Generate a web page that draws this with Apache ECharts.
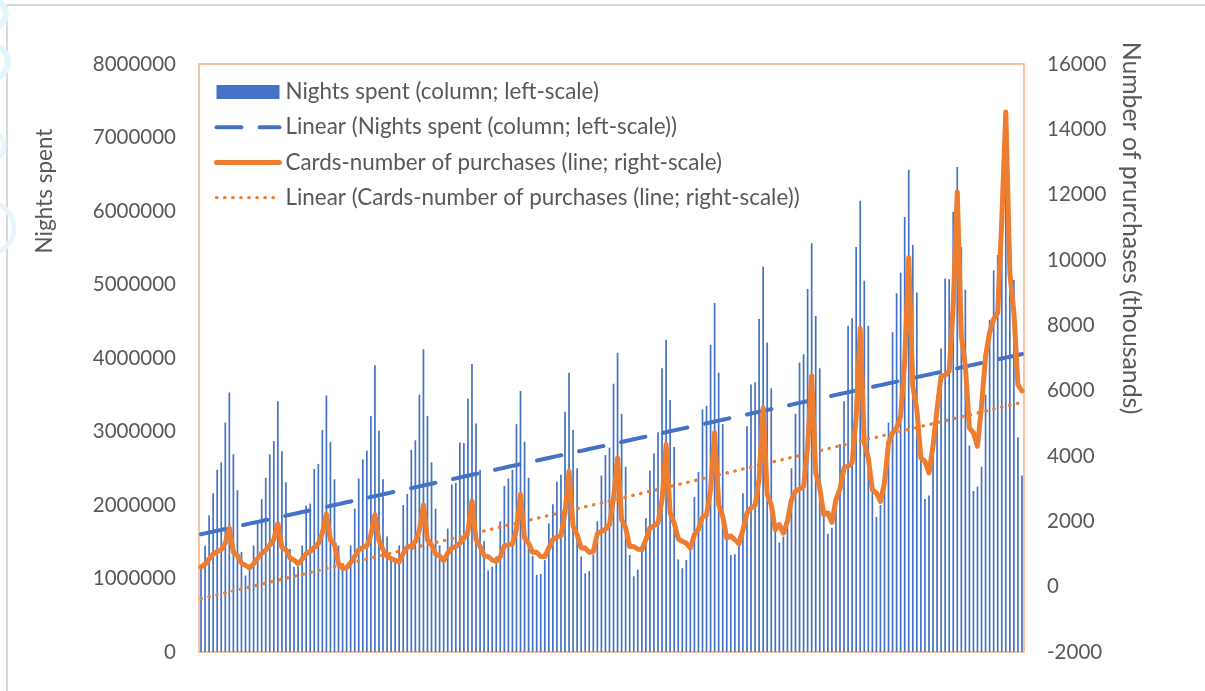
<!DOCTYPE html>
<html>
<head>
<meta charset="utf-8">
<script src="https://cdn.jsdelivr.net/npm/echarts@6/dist/echarts.min.js"></script>
<style>
  html, body { margin: 0; padding: 0; background: #ffffff; }
  #chart { width: 1205px; height: 691px; }
</style>
</head>
<body>
<div id="chart"></div>
<script>
// Monthly nights spent (left scale), 17 seasons of 12 months
const nightsSpent = [
  1150000, 1450000, 1860000, 2160000, 2480000, 2580000, 3120000, 3530000, 2690000, 2200000, 1360000, 1040000,
  1140000, 1450000, 1770000, 2080000, 2370000, 2690000, 2870000, 3410000, 2730000, 2310000, 1400000, 1160000,
  1160000, 1450000, 1990000, 2020000, 2490000, 2560000, 3020000, 3490000, 2860000, 2350000, 1450000, 1140000,
  1180000, 1450000, 1950000, 2360000, 2620000, 2740000, 3210000, 3900000, 3010000, 2350000, 1570000, 1280000,
  1280000, 1450000, 2000000, 2150000, 2750000, 2880000, 3500000, 4120000, 3210000, 2580000, 1950000, 1450000,
  1270000, 1680000, 2280000, 2300000, 2850000, 2840000, 3450000, 3920000, 3110000, 2480000, 1510000, 1110000,
  1160000, 1300000, 1780000, 2260000, 2360000, 2480000, 3100000, 3550000, 2860000, 2370000, 1310000, 1050000,
  1060000, 1250000, 1750000, 2010000, 2320000, 2410000, 3270000, 3800000, 3020000, 2500000, 1300000, 1070000,
  1100000, 1330000, 1780000, 2400000, 2680000, 2780000, 3650000, 4070000, 3240000, 2520000, 1320000, 1030000,
  1120000, 1400000, 1820000, 2470000, 2700000, 2990000, 3860000, 4250000, 3430000, 2790000, 1260000, 1140000,
  1250000, 1470000, 2110000, 2450000, 3300000, 3350000, 4180000, 4750000, 3800000, 3100000, 1600000, 1320000,
  1330000, 1580000, 2160000, 3070000, 3640000, 3670000, 4530000, 5240000, 4210000, 3590000, 1750000, 1490000,
  1570000, 1700000, 2500000, 3240000, 3940000, 4050000, 4940000, 5560000, 4570000, 3860000, 1970000, 1610000,
  1690000, 2090000, 2830000, 3410000, 4440000, 4540000, 5510000, 6140000, 5050000, 4440000, 2300000, 1840000,
  2000000, 2310000, 3120000, 4350000, 4880000, 5160000, 5920000, 6560000, 5540000, 4890000, 2630000, 2080000,
  2130000, 2680000, 3490000, 4130000, 5080000, 5070000, 5990000, 6600000, 5510000, 4930000, 2810000, 2190000,
  2250000, 2520000, 3500000, 4520000, 5190000, 5400000, 6300000, 6900000, 5900000, 5060000, 2920000, 2400000
];

// Monthly card purchases in thousands (right scale)
const cardPurchases = [
  600, 690, 850, 1000, 1080, 1130, 1330, 1790, 1060, 950, 720, 650,
  580, 700, 870, 1020, 1120, 1270, 1450, 1930, 1200, 1130, 880, 820,
  700, 840, 1010, 1080, 1200, 1320, 1640, 2220, 1430, 1300, 700, 560,
  580, 740, 930, 1130, 1200, 1240, 1590, 2200, 1420, 1130, 920, 860,
  810, 760, 1020, 1210, 1250, 1380, 1740, 2500, 1430, 1280, 1000, 940,
  800, 1030, 1180, 1230, 1330, 1480, 1690, 2620, 1440, 1230, 950, 920,
  820, 770, 920, 1250, 1280, 1310, 1750, 2820, 1490, 1330, 1050, 1050,
  920, 920, 1180, 1440, 1520, 1560, 2260, 3530, 1850, 1590, 1180, 1180,
  1050, 1080, 1620, 1690, 1760, 1900, 2700, 3940, 2050, 1800, 1230, 1230,
  1150, 1130, 1440, 1800, 1870, 1950, 2660, 4350, 2260, 1950, 1460, 1390,
  1330, 1180, 1590, 1760, 2130, 2200, 2970, 4710, 2510, 2150, 1490, 1550,
  1440, 1310, 1740, 2260, 2410, 2480, 3300, 5480, 2820, 2510, 1740, 1900,
  1640, 2000, 2660, 2920, 2990, 3070, 4300, 6450, 3480, 3020, 2200, 2260,
  1970, 2660, 2990, 3640, 3690, 3790, 5200, 7900, 4400, 3940, 2970, 2870,
  2610, 3180, 4400, 4710, 4860, 5220, 6900, 10080, 6140, 5430, 3940, 3840,
  3480, 4300, 5430, 6450, 6470, 6600, 8600, 12080, 7680, 6760, 4860, 4710,
  4300, 5530, 7060, 7780, 8190, 8390, 11200, 14530, 9600, 8390, 6190, 5990
];

const leftScale = { min: 0, max: 8000000, interval: 1000000 };
const rightScale = { min: -2000, max: 16000, interval: 2000 };

const seriesNames = [
  'Nights spent (column; left-scale)',
  'Linear (Nights spent (column; left-scale))',
  'Cards-number of purchases (line; right-scale)',
  'Linear (Cards-number of purchases (line; right-scale))'
];

// Month index labels for the category axis (not displayed)
const months = nightsSpent.map((_, i) => String(i + 1));

// Ordinary least-squares fit over the month index
function linearTrend(values) {
  const n = values.length;
  let sx = 0, sy = 0, sxy = 0, sxx = 0;
  values.forEach((v, i) => {
    const x = i + 1;
    sx += x; sy += v; sxy += x * v; sxx += x * x;
  });
  const slope = (n * sxy - sx * sy) / (n * sxx - sx * sx);
  const intercept = (sy - slope * sx) / n;
  return values.map((_, i) => intercept + slope * (i + 1));
}

const nightsTrend = linearTrend(nightsSpent);
const cardsTrend = linearTrend(cardPurchases);

const FONT = 'Lato, "Open Sans", sans-serif';
const GREY = '#595959';
const BLUE = '#4472C4';
const ORANGE = '#ED7D31';
const plainNumber = (v) => String(v);

// legend line icons: keep the stroke, hide the centre marker
const hiddenMarker = { opacity: 0 };

const chart = echarts.init(document.getElementById('chart'), null, { renderer: 'canvas' });

chart.setOption({
  animation: false,
  backgroundColor: '#ffffff',
  grid: {
    left: 199, right: 181, top: 64, bottom: 39,
    show: true, borderColor: '#F4B183', borderWidth: 1.5, backgroundColor: 'transparent'
  },
  xAxis: {
    type: 'category',
    data: months,
    axisLine: { show: false },
    axisTick: { show: false },
    axisLabel: { show: false },
    splitLine: { show: false }
  },
  yAxis: [
    {
      type: 'value',
      min: leftScale.min, max: leftScale.max, interval: leftScale.interval,
      axisLine: { show: false }, axisTick: { show: false }, splitLine: { show: false },
      axisLabel: { fontFamily: FONT, fontSize: 20.5, color: GREY, margin: 23, formatter: plainNumber }
    },
    {
      type: 'value',
      min: rightScale.min, max: rightScale.max, interval: rightScale.interval,
      axisLine: { show: false }, axisTick: { show: false }, splitLine: { show: false },
      axisLabel: { fontFamily: FONT, fontSize: 20.5, color: GREY, margin: 23, formatter: plainNumber }
    }
  ],
  legend: {
    orient: 'vertical',
    left: 214, top: 81,
    padding: 0,
    itemWidth: 63, itemHeight: 14, itemGap: 13.2,
    selectedMode: false,
    textStyle: { fontFamily: FONT, fontSize: 22.4, color: GREY, lineHeight: 22, padding: [0, 0, 0, 1] },
    data: [
      { name: seriesNames[0], icon: 'rect' },
      { name: seriesNames[1], lineStyle: { width: 4 }, itemStyle: hiddenMarker },
      { name: seriesNames[2], lineStyle: { width: 5 }, itemStyle: hiddenMarker },
      { name: seriesNames[3], lineStyle: { width: 3.3 }, itemStyle: hiddenMarker }
    ]
  },
  series: [
    {
      name: seriesNames[0],
      type: 'bar',
      yAxisIndex: 0,
      data: nightsSpent,
      barWidth: 1.7,
      itemStyle: { color: BLUE }
    },
    {
      name: seriesNames[1],
      type: 'line',
      yAxisIndex: 0,
      data: nightsTrend,
      symbol: 'none',
      silent: true,
      lineStyle: { color: BLUE, width: 4, type: [25, 18], cap: 'round' },
      itemStyle: { color: BLUE }
    },
    {
      name: seriesNames[3],
      type: 'line',
      yAxisIndex: 1,
      data: cardsTrend,
      symbol: 'none',
      silent: true,
      lineStyle: { color: ORANGE, width: 3.3, type: [0.5, 7.57], cap: 'round' },
      itemStyle: { color: ORANGE }
    },
    {
      name: seriesNames[2],
      type: 'line',
      yAxisIndex: 1,
      data: cardPurchases,
      symbol: 'none',
      lineStyle: { color: ORANGE, width: 5, cap: 'round', join: 'round' },
      itemStyle: { color: ORANGE }
    }
  ],
  graphic: [
    {
      type: 'rect', silent: true, z: -10,
      shape: { x: 7, y: 5, width: 1230, height: 720 },
      style: { fill: 'none', stroke: '#D9D9D9', lineWidth: 2 }
    },
    // faint light-blue shapes peeking in at the left edge
    {
      type: 'group', silent: true, z: -20,
      children: [
        { type: 'circle', shape: { cx: -8, cy: 14, r: 14 }, style: { fill: 'none', stroke: '#E2F4FC', lineWidth: 6 } },
        { type: 'circle', shape: { cx: -9, cy: 62, r: 17 }, style: { fill: 'none', stroke: '#E2F4FC', lineWidth: 6 } },
        { type: 'circle', shape: { cx: -10, cy: 146, r: 14 }, style: { fill: 'none', stroke: '#E8F6FC', lineWidth: 5 } },
        { type: 'circle', shape: { cx: -12, cy: 228, r: 26 }, style: { fill: 'none', stroke: '#E8F6FC', lineWidth: 5 } }
      ]
    },
    {
      type: 'text', silent: true,
      x: 45, y: 191, rotation: Math.PI / 2,
      style: { text: 'Nights spent', fontFamily: FONT, fontSize: 22.5, fill: GREY, align: 'center', verticalAlign: 'middle' }
    },
    {
      type: 'text', silent: true,
      x: 1131, y: 228, rotation: -Math.PI / 2,
      style: { text: 'Number of prurchases (thousands)', fontFamily: FONT, fontSize: 24.8, fill: GREY, align: 'center', verticalAlign: 'middle' }
    }
  ]
});
</script>
</body>
</html>
